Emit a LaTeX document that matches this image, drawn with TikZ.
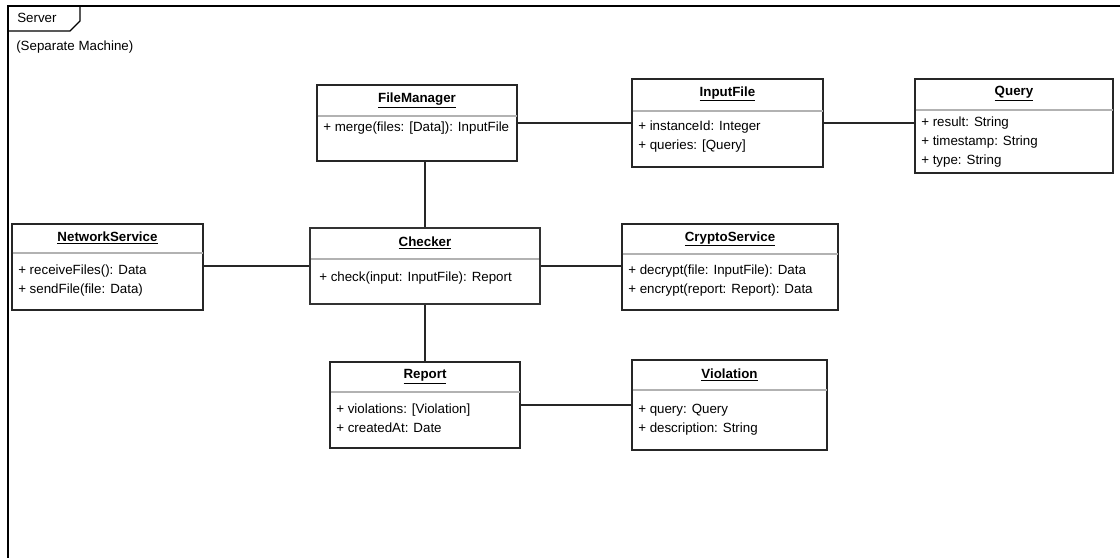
\documentclass[tikz,border=0pt]{standalone}
\usepackage{fontspec}
\setmainfont{Liberation Sans}
\usetikzlibrary{fit}

\begin{document}
\begin{tikzpicture}[x=0.75pt,y=-0.75pt]
	\tikzstyle{classbox}=[draw=black!85, inner sep=0pt, line width=0.8pt]
	\tikzstyle{title}=[font=\fontsize{10}{12}\selectfont\bfseries, inner sep=0pt]
	\tikzstyle{attrs}=[font=\fontsize{10}{14}\selectfont, align=left, anchor=north west, inner sep=0pt]
	\tikzstyle{divider}=[draw=black!30, line width=0.8pt]
	\tikzstyle{link}=[draw=black!85, line width=0.8pt]
	\useasboundingbox (0,0) rectangle (1120,557);

	% Frame
	\draw[line width=0.8pt] (8,6) rectangle (1130,570);
	\draw[line width=0.8pt] (8,31) -- (70,31) -- (80,21) -- (80,6);
	\node[attrs, anchor=west] (server) at (17,18) {Server};
	\node[attrs, anchor=west] (machine) at (16,47) {(Separate Machine)};

	% Top row
	\node[classbox, fit={(317,85) (517,161)}] (fileManager) {};
	\draw[divider] (317.5,116) -- (516.5,116);
	\node[title] at (417,100) {\underline{FileManager}};
	\node[attrs] at (323,122) {+ merge(files: [Data]): InputFile};

	\node[classbox, fit={(632,79) (823,167)}] (inputFile) {};
	\draw[divider] (632.5,111) -- (822.5,111);
	\node[title] at (727.5,94) {\underline{InputFile}};
	\node[attrs] at (638,121) {+ instanceId: Integer\\+ queries: [Query]};

	\node[classbox, fit={(915,79) (1113,173)}] (query) {};
	\draw[divider] (915.5,110) -- (1112.5,110);
	\node[title] at (1014,94) {\underline{Query}};
	\node[attrs] at (921,117) {+ result: String\\+ timestamp: String\\+ type: String};

	% Middle row
	\node[classbox, fit={(12,224) (203,310)}] (networkService) {};
	\draw[divider] (12.5,253) -- (202.5,253);
	\node[title] at (107.5,238) {\underline{NetworkService}};
	\node[attrs] at (18,265) {+ receiveFiles(): Data\\+ sendFile(file: Data)};

	\node[classbox, line width=1.8pt, draw=black!80, fit={(310,228) (540,304)}] (checker) {};
	\draw[divider] (311,259) -- (539,259);
	\node[title] at (425,243) {\underline{Checker}};
	\node[attrs] at (319,272) {+ check(input: InputFile): Report};

	\node[classbox, fit={(622,224) (838,310)}] (cryptoService) {};
	\draw[divider] (622.5,254) -- (837.5,254);
	\node[title] at (730,239) {\underline{CryptoService}};
	\node[attrs] at (628,265) {+ decrypt(file: InputFile): Data\\+ encrypt(report: Report): Data};

	% Bottom row
	\node[classbox, fit={(330,362) (520,448)}] (report) {};
	\draw[divider] (330.5,392) -- (519.5,392);
	\node[title] at (425,377) {\underline{Report}};
	\node[attrs] at (336,404) {+ violations: [Violation]\\+ createdAt: Date};

	\node[classbox, fit={(632,360) (827,450)}] (violation) {};
	\draw[divider] (632.5,390) -- (826.5,390);
	\node[title] at (729.5,375) {\underline{Violation}};
	\node[attrs] at (638,404) {+ query: Query\\+ description: String};

	% Links
	\draw[link] (fileManager) -- (inputFile);
	\draw[link] (inputFile) -- (inputFile.east -| query.west);
	\draw[link] (checker.north) -- (checker.north |- fileManager.south);
	\draw[link] (checker.west) -- (checker.west -| networkService.east);
	\draw[link] (checker.east) -- (checker.east -| cryptoService.west);
	\draw[link] (checker) -- (report);
	\draw[link] (report) -- (violation);
\end{tikzpicture}
\end{document}
